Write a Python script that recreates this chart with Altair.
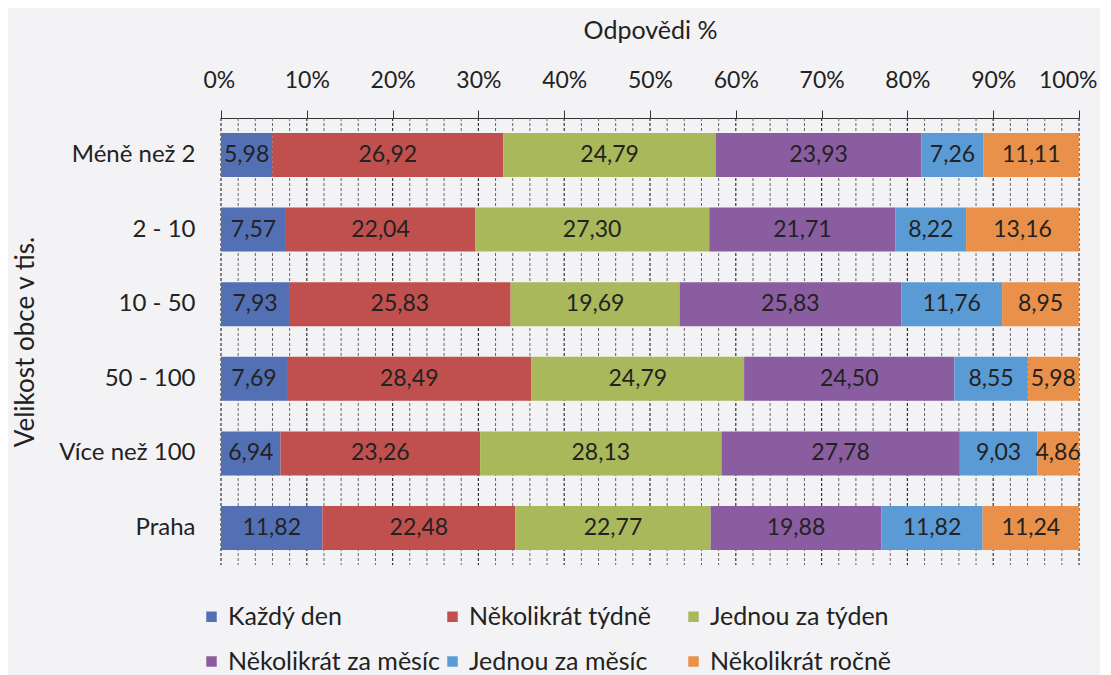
import altair as alt
import pandas as pd

categories = ["Méně než 2", "2 - 10", "10 - 50", "50 - 100", "Více než 100", "Praha"]
series = ["Každý den", "Několikrát týdně", "Jednou za týden",
          "Několikrát za měsíc", "Jednou za měsíc", "Několikrát ročně"]
kazdy_den = [5.98, 7.57, 7.93, 7.69, 6.94, 11.82]
nekolikrat_tydne = [26.92, 22.04, 25.83, 28.49, 23.26, 22.48]
jednou_za_tyden = [24.79, 27.30, 19.69, 24.79, 28.13, 22.77]
nekolikrat_za_mesic = [23.93, 21.71, 25.83, 24.50, 27.78, 19.88]
jednou_za_mesic = [7.26, 8.22, 11.76, 8.55, 9.03, 11.82]
nekolikrat_rocne = [11.11, 13.16, 8.95, 5.98, 4.86, 11.24]
colors = ["#5470B4", "#C0504D", "#A8B85A", "#8A5DA0", "#5B9BD5", "#E9904A"]
major_ticks = list(range(0, 101, 10))
minor_ticks = [v for v in range(0, 101, 2) if v % 10 != 0]

FONT = "Lato"
all_values = [kazdy_den, nekolikrat_tydne, jednou_za_tyden,
              nekolikrat_za_mesic, jednou_za_mesic, nekolikrat_rocne]
rows = []
for si, (s, vals) in enumerate(zip(series, all_values)):
    for ci, c in enumerate(categories):
        v = vals[ci]
        rows.append({"category": c, "series": s, "order": si, "value": v,
                     "label": f"{v:.2f}".replace(".", ",")})
df = pd.DataFrame(rows)

xscale = alt.Scale(domain=[0, 100], nice=False)
yscale = alt.Scale(paddingInner=0.41, paddingOuter=0.2)

minor = alt.Chart(pd.DataFrame({"t": minor_ticks})).mark_rule(
    color="#666", strokeWidth=1, strokeDash=[3, 2]
).encode(x=alt.X("t:Q", scale=xscale))
major = alt.Chart(pd.DataFrame({"t": major_ticks})).mark_rule(
    color="#333", strokeWidth=1.2, strokeDash=[3, 2]
).encode(x=alt.X("t:Q", scale=xscale))

bars = alt.Chart(df).mark_bar().encode(
    x=alt.X("value:Q", stack="zero", scale=xscale,
            axis=alt.Axis(orient="top", values=major_ticks, format="d",
                          labelExpr="datum.value + '%'", title="Odpovědi %",
                          grid=False, tickSize=8, tickColor="#333", domainColor="#333",
                          labelFlush=True, labelFlushOffset=18, labelOverlap=False,
                          labelPadding=18, titlePadding=26, labelFontSize=23,
                          titleFontSize=25, titleFontWeight="normal",
                          labelColor="#222", titleColor="#222")),
    y=alt.Y("category:N", sort=categories, scale=yscale,
            axis=alt.Axis(title="Velikost obce v tis.", domain=False, ticks=False,
                          labelPadding=26, labelFontSize=24, titleFontSize=26,
                          titleFontWeight="normal", titlePadding=20,
                          labelColor="#222", titleColor="#222")),
    color=alt.Color("series:N", sort=series,
                    scale=alt.Scale(domain=series, range=colors),
                    legend=alt.Legend(title=None, orient="none", legendX=-22, legendY=486,
                                      columns=3, direction="horizontal", gridAlign="all",
                                      columnPadding=0, rowPadding=19, labelLimit=400,
                                      symbolType="square", symbolSize=110,
                                      labelFontSize=25, labelColor="#222",
                                      symbolStrokeWidth=0)),
    order=alt.Order("order:Q"),
)

text = alt.Chart(df).transform_stack(
    stack="value", groupby=["category"], sort=[alt.SortField("order")], as_=["x0", "x1"]
).transform_calculate(mid="(datum.x0 + datum.x1) / 2").mark_text(
    fontSize=23, color="#222", font=FONT
).encode(
    x=alt.X("mid:Q", scale=xscale),
    y=alt.Y("category:N", sort=categories, scale=yscale),
    text="label:N",
)

chart = alt.layer(minor, major, bars, text).properties(
    width=858, height=447, background="#F3F3F5",
    padding={"left": 4, "top": 10, "right": 3, "bottom": 4},
).configure(font=FONT).configure_view(stroke=None)

chart.save("out.html", embed_options={"renderer": "svg", "actions": False})
